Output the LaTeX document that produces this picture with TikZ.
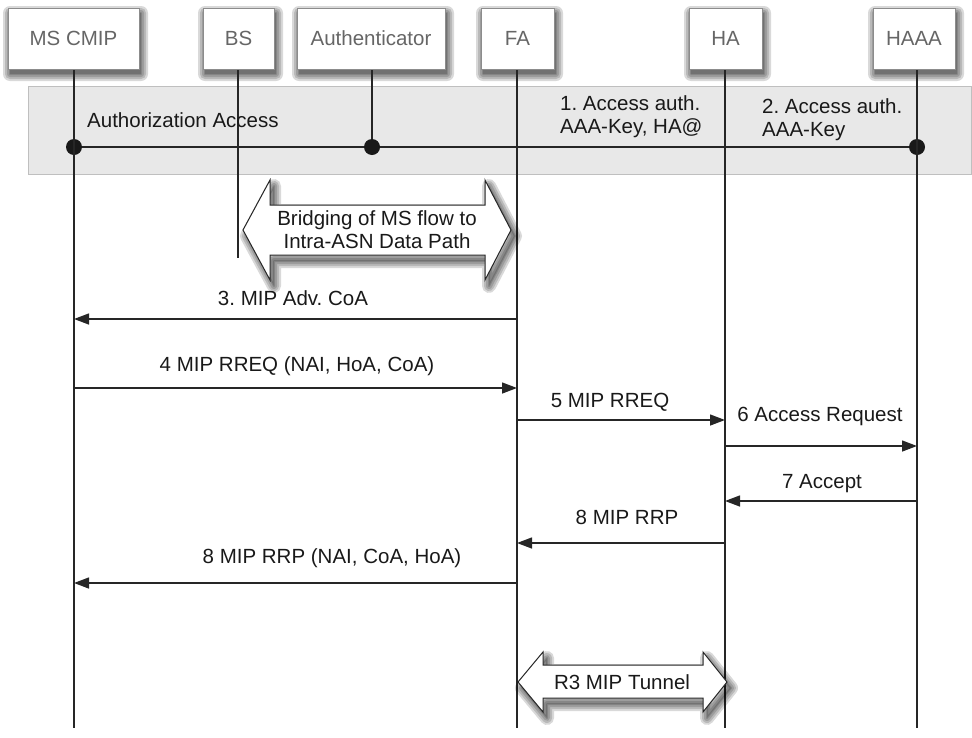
\documentclass[tikz,border=0pt]{standalone}
\usepackage{fontspec}
\setmainfont{Liberation Sans}
\frenchspacing
\usetikzlibrary{arrows.meta}
\newcommand\bridgeP{(243,230) -- (270,180) -- (270,205) -- (485,205) -- (485,180) -- (511,230)
  -- (485,280) -- (485,255) -- (270,255) -- (270,280) -- cycle}
\newcommand\tunnelP{(518,682) -- (543,652) -- (543,665) -- (703,665) -- (703,652) -- (727,682)
  -- (703,712) -- (703,698) -- (543,698) -- (543,712) -- cycle}
\begin{document}
\begin{tikzpicture}[x=1pt,y=-1pt,
  lbl/.style={font=\fontsize{20.5}{24}\selectfont, inner sep=0pt, text=black!90},
  hdr/.style={draw=black!45, line width=1pt, fill=white, text=black!60,
    font=\fontsize{20.5}{24}\selectfont, minimum height=61pt, inner sep=0pt},
  life/.style={line width=1.3pt, black!85},
  msg/.style={line width=1.4pt, black!85, -{Triangle[length=15pt,width=11pt]}},
  dot/.style={circle, fill=black!90, minimum size=16pt, inner sep=0pt},
  shd/.style={black, opacity=0.15, line join=round},
  dbl/.style={draw=black!85, line width=1pt, fill=white}]
\useasboundingbox (0,0) rectangle (972,737);

% band
\fill[fill=black!9, draw=black!25, line width=1pt] (28,86) rectangle (971,174);

% header shadows
\foreach \xa/\xb in {8/139, 203/274, 297/445, 481/554, 689/762, 873/955}{
  \foreach \s in {7,5,3,1,0}
    \fill[shd, rounded corners=\s pt] (\xa+2-\s, 8+5-\s) rectangle (\xb+2+\s, 69+5+\s);
}

% header boxes
\node[hdr, minimum width=131pt] (ms)   at (73.5,38.5) {MS CMIP};
\node[hdr, minimum width=71pt]  (bs)   at (238.5,38.5) {BS};
\node[hdr, minimum width=148pt] (auth) at (371,38.5) {Authenticator};
\node[hdr, minimum width=73pt]  (fa)   at (517.5,38.5) {FA};
\node[hdr, minimum width=73pt]  (ha)   at (725.5,38.5) {HA};
\node[hdr, minimum width=82pt]  (haaa) at (914,38.5) {HAAA};

% lifeline ends
\coordinate (msE) at (74,728);
\coordinate (bsE) at (238,258);
\coordinate (faE) at (517,728);
\coordinate (haE) at (725,728);
\coordinate (haaaE) at (917,728);

% dots
\node[dot] (d1) at (74,147) {};
\node[dot] (d2) at (372,147) {};
\node[dot] (d3) at (917,147) {};

% lifelines
\draw[life] (74,70) -- (msE);
\draw[life] (238,70) -- (bsE);
\draw[life] (372,70) -- (d2);
\draw[life] (517,70) -- (faE);
\draw[life] (725,70) -- (haE);
\draw[life] (917,70) -- (haaaE);
\draw[life] (d1) -- (d2) -- (d3);

% band labels
\node[lbl, anchor=west] (aa) at (87,120) {Authorization Access};
\node[lbl, anchor=west, align=left] (k1) at (560,117) {1. Access auth.\\[-1pt]AAA-Key, HA@};
\node[lbl, anchor=west, align=left] (k2) at (762,120) {2. Access auth.\\[-1pt]AAA-Key};

% bridging arrow
\begin{scope}[shift={(4,6)}]
  \foreach \w in {14,10,6,2} \draw[shd, line width=\w pt] \bridgeP;
  \fill[shd] \bridgeP;
\end{scope}
\draw[dbl] \bridgeP;
\node[lbl, align=center] (brg) at (377,230) {Bridging of MS flow to\\[-1pt]Intra-ASN Data Path};

% messages
\coordinate (m3a) at (517,319); \coordinate (m3b) at (74,319);
\draw[msg] (m3a) -- (m3b);
\node[lbl] (l3) at (293,298) {3. MIP Adv. CoA};

\coordinate (m4a) at (74,388); \coordinate (m4b) at (517,388);
\draw[msg] (m4a) -- (m4b);
\node[lbl] (l4) at (297,366) {4 MIP RREQ (NAI, HoA, CoA)};

\coordinate (m5a) at (517,420); \coordinate (m5b) at (725,420);
\draw[msg] (m5a) -- (m5b);
\node[lbl] (l5) at (610,402) {5 MIP RREQ};

\coordinate (m6a) at (725,446); \coordinate (m6b) at (917,446);
\draw[msg] (m6a) -- (m6b);
\node[lbl] (l6) at (820,416) {6 Access Request};

\coordinate (m7a) at (917,501); \coordinate (m7b) at (725,501);
\draw[msg] (m7a) -- (m7b);
\node[lbl] (l7) at (822,484) {7 Accept};

\coordinate (m8a) at (725,543); \coordinate (m8b) at (517,543);
\draw[msg] (m8a) -- (m8b);
\node[lbl] (l8) at (627,517) {8 MIP RRP};

\coordinate (m9a) at (517,583); \coordinate (m9b) at (74,583);
\draw[msg] (m9a) -- (m9b);
\node[lbl] (l9) at (332,558) {8 MIP RRP (NAI, CoA, HoA)};

% tunnel arrow
\begin{scope}[shift={(4,6)}]
  \foreach \w in {14,10,6,2} \draw[shd, line width=\w pt] \tunnelP;
  \fill[shd] \tunnelP;
\end{scope}
\draw[dbl] \tunnelP;
\node[lbl] (tun) at (622,682) {R3 MIP Tunnel};
\end{tikzpicture}
\end{document}
